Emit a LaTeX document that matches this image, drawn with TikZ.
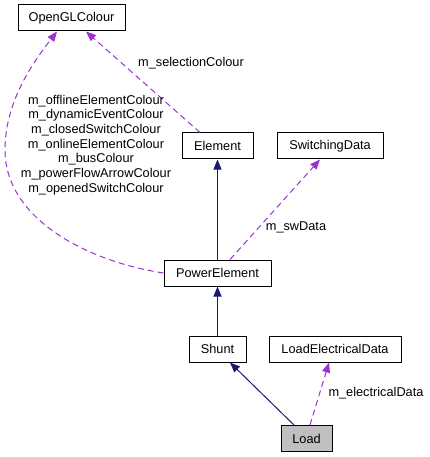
\documentclass[tikz,border=0pt]{standalone}
\usepackage{fontspec}
\setmainfont{Liberation Sans}
\usetikzlibrary{arrows.meta}
\definecolor{orchid}{HTML}{9A32CD}
\definecolor{mnavy}{HTML}{191970}
\begin{document}
\begin{tikzpicture}[x=1pt,y=-1pt,
  every node/.style={font=\fontsize{12.75}{14.7}\selectfont, inner sep=0pt},
  cls/.style={draw=black, line width=1pt, minimum height=26pt, fill=white},
  inh/.style={draw=mnavy, line width=1pt, -{Triangle[length=10pt,width=8pt]}},
  use/.style={draw=orchid, line width=1pt, dash pattern=on 6pt off 4pt, -{Triangle[length=10pt,width=8pt]}},
  lbl/.style={align=center, text=black}]
\useasboundingbox (0,0) rectangle (430,457);
\node[cls, minimum width=107pt] (ogl) at (71.5,18) {OpenGLColour};
\node[cls, minimum width=71pt] (el) at (217.5,146) {Element};
\node[cls, minimum width=106pt] (sd) at (330,146) {SwitchingData};
\node[cls, minimum width=107pt] (pe) at (217.5,273) {PowerElement};
\node[cls, minimum width=57pt] (sh) at (217.5,349) {Shunt};
\node[cls, minimum width=132pt] (led) at (335,349) {LoadElectricalData};
\node[cls, minimum width=51pt, fill=black!25] (ld) at (306.5,438.5) {Load};

\draw[use] ([xshift=-17.5pt]el.north) -- ([xshift=14.5pt]ogl.south);
\node[lbl] (l1) at (191,63) {m\_selectionColour};

\draw[use] (pe.west) .. controls (90,262) and (5,220) .. (5,150)
  .. controls (5,100) and (35,60) .. ([xshift=-14.5pt]ogl.south);
\node[lbl] (l2) at (96,145) {m\_offlineElementColour\\m\_dynamicEventColour\\m\_closedSwitchColour\\m\_onlineElementColour\\m\_busColour\\m\_powerFlowArrowColour\\m\_openedSwitchColour};

\draw[inh] (pe.north) -- (el.south);
\draw[use] ([xshift=12.5pt]pe.north) -- ([xshift=-10pt]sd.south);
\node[lbl] (l3) at (296,227) {m\_swData};

\draw[inh] (sh.north) -- (pe.south);
\draw[inh] ([xshift=-12.5pt]ld.north) -- ([xshift=12.5pt]sh.south);
\draw[use] ([xshift=3.5pt]ld.north) -- ([xshift=-6pt]led.south);
\node[lbl] (l4) at (376,393) {m\_electricalData};
\end{tikzpicture}
\end{document}
